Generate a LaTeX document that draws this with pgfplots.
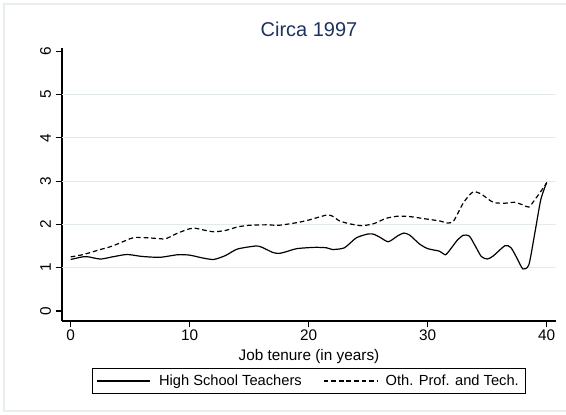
\documentclass[border=0pt]{standalone}
\usepackage{fontspec}
\setmainfont{Liberation Sans}
\usepackage{pgfplots}
\pgfplotsset{compat=1.18}
\definecolor{titleblue}{RGB}{30,50,95}
\definecolor{gridc}{RGB}{226,234,237}
\definecolor{framec}{RGB}{232,238,240}
\begin{document}
\begin{tikzpicture}
\path[use as bounding box] (-46.5pt,-69.75pt) rectangle (378pt,240.75pt);
\draw[framec, line width=0.8pt] (380pt,-67.5pt) -- (-43.5pt,-67.5pt) -- (-43.5pt,237.75pt) -- (380pt,237.75pt);
\begin{axis}[
  at={(0pt,0pt)}, anchor=south west,
  scale only axis, width=370.5pt, height=204.75pt,
  xmin=-0.73, xmax=40.78, ymin=-0.231, ymax=6.074,
  axis x line*=bottom, axis y line*=left,
  axis line style={-, line width=0.8pt},
  tick align=outside, major tick length=4.75pt,
  tick style={line width=0.8pt, black},
  xtick={0,10,20,30,40}, ytick={0,1,2,3,4,5,6},
  extra y ticks={1,2,3,4,5}, extra y tick labels={},
  extra y tick style={ymajorgrids=true, major tick length=0pt, grid style={gridc, line width=0.8pt}},
  /pgf/number format/assume math mode=true,
  tick label style={font=\fontsize{11.5}{13}\selectfont},
  xticklabel style={yshift=1.5pt},
  yticklabel style={rotate=90, anchor=south, xshift=0pt},
  every axis title shift=0pt,
  title={Circa 1997},
  title style={font=\fontsize{15}{17}\selectfont, color=titleblue, at={(axis description cs:0.5,1)}, anchor=center, yshift=14.25pt},
  xlabel={Job tenure (in years)},
  xlabel style={font=\fontsize{11.5}{13}\selectfont, at={(axis description cs:0.5,0)}, anchor=center, yshift=-26.5pt},
  legend columns=2,
  legend style={at={(axis description cs:0.5,0)}, anchor=center, yshift=-45pt,
    draw=black, line width=0.8pt, font=\fontsize{11}{13}\selectfont,
    inner xsep=3pt, inner ysep=2.5pt,
    /tikz/every odd column/.append style={column sep=4pt},
    /tikz/every even column/.append style={column sep=14pt}},
  legend image code/.code={\draw[#1] (0pt,0pt) -- (40pt,0pt);},
  clip=false,
]
\addplot[black, line width=0.9pt, smooth, tension=0.4] coordinates {
(0,1.19) (1,1.25) (1.5,1.25) (2.5,1.20) (3.5,1.25) (4.5,1.30) (5,1.30) (6,1.26)
(7.5,1.24) (9,1.30) (10,1.29) (11,1.23) (12,1.19) (13,1.28) (14,1.43) (15.5,1.50)
(16,1.48) (17,1.35) (17.5,1.33) (18,1.36) (19,1.44) (20.5,1.47) (21.5,1.46) (22,1.42)
(23,1.46) (24,1.69) (25,1.78) (25.5,1.77) (26,1.70) (26.7,1.60) (27.5,1.74) (28,1.80)
(28.5,1.75) (29.3,1.55) (30,1.44) (31,1.38) (31.5,1.30) (32,1.46) (32.5,1.64) (33,1.75)
(33.5,1.73) (34,1.50) (34.5,1.26) (35,1.20) (35.5,1.27) (36.5,1.51) (37,1.46) (37.5,1.22)
(38,0.97) (38.5,1.07) (39,1.80) (39.5,2.57) (40,2.97)
};
\addlegendentry{High School Teachers}
\addplot[black, line width=0.9pt, smooth, tension=0.4, dash pattern=on 3.5pt off 2.2pt] coordinates {
(0,1.25) (1,1.30) (2.5,1.42) (3.5,1.50) (5,1.67) (5.5,1.70) (6.5,1.69) (7.5,1.67)
(8,1.67) (9,1.80) (10,1.90) (10.5,1.91) (11,1.88) (12,1.83) (13,1.86) (14,1.94)
(15,1.98) (16.5,1.99) (17.5,1.98) (19,2.04) (20,2.10) (21,2.18) (21.6,2.22) (22,2.19)
(22.6,2.08) (23.5,2.01) (24.5,1.97) (25.5,2.02) (26.5,2.14) (27.5,2.19) (28.5,2.18) (30,2.12)
(31,2.08) (31.7,2.03) (32.2,2.09) (33,2.50) (33.8,2.75) (34.5,2.70) (35.5,2.51) (36.5,2.49)
(37.3,2.51) (38,2.45) (38.5,2.40) (39,2.57) (39.5,2.76) (40,2.96)
};
\addlegendentry{Oth. Prof. and Tech.}
\end{axis}
\end{tikzpicture}
\end{document}
